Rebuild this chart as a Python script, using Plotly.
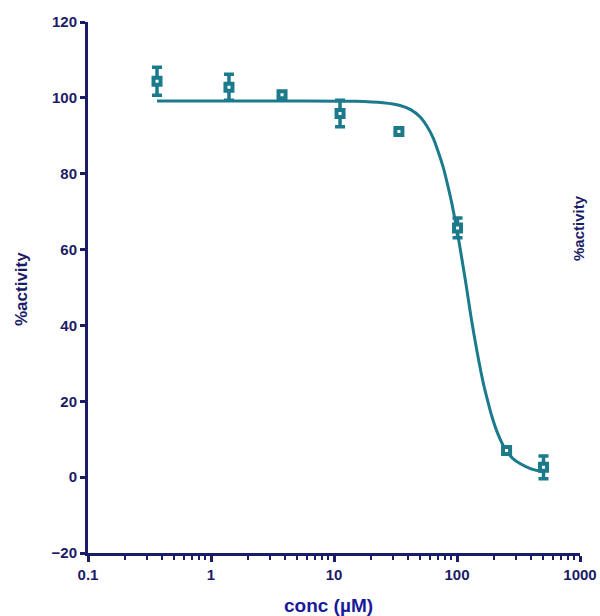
import plotly.graph_objects as go

# Measured data (mean ± SD)
conc = [0.364, 1.40, 3.78, 11.2, 33.7, 101, 253, 505]
activity = [104.4, 102.8, 100.8, 95.9, 91.1, 65.7, 7.0, 2.6]
sd = [3.7, 3.4, 0.0, 3.5, 0.0, 2.6, 0.0, 3.0]

# Fitted curve, points
curve_conc = [0.364, 5, 15, 25, 34.4, 42, 50, 57, 64.1, 70, 77.4, 84, 90.6, 99.5,
              109, 119.5, 130, 144.6, 163.6, 180, 191.4, 215, 245.6, 285, 325, 400, 505]
curve_act = [99.2, 99.2, 99.1, 98.7, 98.0, 96.9, 95.0, 92.5, 89.4, 86.0, 81.6, 77.0, 72.3, 65.5,
             58.0, 50.0, 42.2, 33.6, 24.8, 19.4, 16.2, 11.4, 7.5, 4.9, 3.6, 2.2, 1.4]

x_ticks = [0.1, 1, 10, 100, 1000]
x_tick_labels = ["0.1", "1", "10", "100", "1000"]
y_ticks = [-20, 0, 20, 40, 60, 80, 100, 120]

TEAL = "#1b7a8b"
NAVY = "#1c1c66"
FONT = "Liberation Sans Narrow, Arial Narrow, Liberation Sans, Arial, sans-serif"

fig = go.Figure()
fig.add_trace(go.Scatter(
    x=curve_conc, y=curve_act, mode="lines",
    line=dict(color=TEAL, width=3, shape="spline", smoothing=0.6),
    hoverinfo="skip", showlegend=False,
))
fig.add_trace(go.Scatter(
    x=conc, y=activity, mode="markers",
    marker=dict(symbol="square", size=7, color="white", line=dict(width=4, color=TEAL)),
    error_y=dict(type="data", array=sd, visible=True, color=TEAL, thickness=3.5, width=5),
    showlegend=False,
))

fig.update_xaxes(
    type="log", range=[-1, 3], automargin=False,
    tickvals=x_ticks, ticktext=x_tick_labels,
    ticks="outside", ticklen=6, tickwidth=3, tickcolor=NAVY,
    showline=True, linewidth=3, linecolor=NAVY,
    showgrid=False, zeroline=False,
    tickfont=dict(family=FONT, size=15, color=NAVY, weight="bold"),
    minor=dict(ticks="outside", ticklen=4, tickwidth=2, tickcolor=NAVY, dtick="D1", showgrid=False),
)
fig.update_yaxes(
    range=[-20, 120], tickvals=y_ticks, automargin=False,
    ticks="outside", ticklen=5, tickwidth=3, tickcolor=NAVY,
    showline=True, linewidth=3, linecolor=NAVY,
    showgrid=False, zeroline=False,
    tickfont=dict(family=FONT, size=15, color=NAVY, weight="bold"),
)

L, R, T, B = 88, 20, 22, 63
W, H = 600, 616
plot_w = W - L - R
plot_h = H - T - B

def px_to_paper_x(px):
    return (px - L) / plot_w

def px_to_paper_y(py):
    return (H - B - py) / plot_h

fig.update_layout(
    width=W, height=H,
    margin=dict(l=L, r=R, t=T, b=B),
    plot_bgcolor="white", paper_bgcolor="white",
    annotations=[
        dict(text="%activity", x=px_to_paper_x(22), y=px_to_paper_y(289),
             xref="paper", yref="paper", xanchor="center", yanchor="middle",
             showarrow=False, textangle=-90,
             font=dict(family=FONT, size=17, color=NAVY, weight="bold")),
        dict(text="conc (µM)", x=px_to_paper_x(328), y=px_to_paper_y(605),
             xref="paper", yref="paper", xanchor="center", yanchor="middle",
             showarrow=False,
             font=dict(family="Liberation Sans, Arial, sans-serif", size=19, color="#1a1a9a", weight="bold")),
        dict(text="%activity", x=px_to_paper_x(578), y=px_to_paper_y(228),
             xref="paper", yref="paper", xanchor="center", yanchor="middle",
             showarrow=False, textangle=-90,
             font=dict(family=FONT, size=15, color=NAVY, weight="bold")),
    ],
)

fig.write_html("out.html")
